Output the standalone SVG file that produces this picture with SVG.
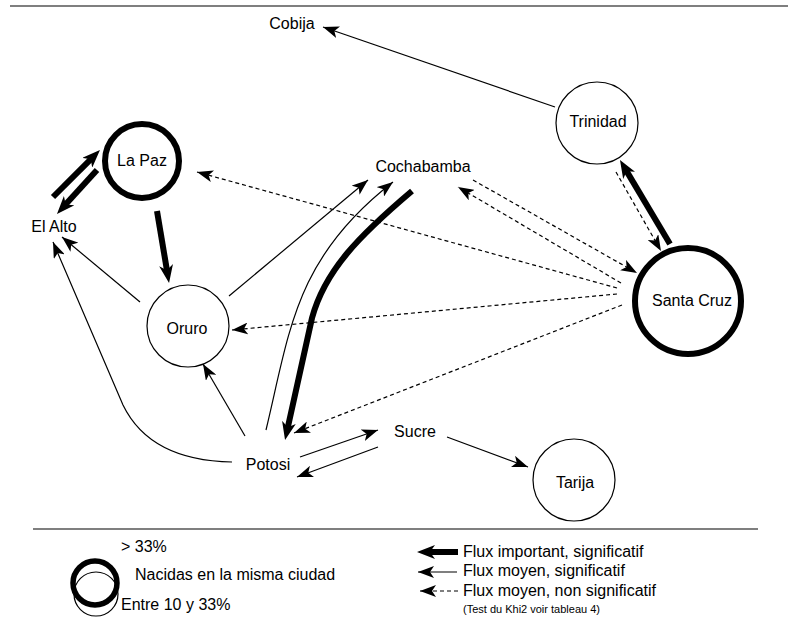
<svg xmlns="http://www.w3.org/2000/svg" width="788" height="626" viewBox="0 0 788 626">
<style>
text{font-family:"Liberation Sans",Arial,Helvetica,sans-serif;font-size:16px;fill:#000}
.c{text-anchor:middle}
.n1{fill:#fff;stroke:#000;stroke-width:1.2}
.n2{fill:#fff;stroke:#000;stroke-width:6}
.t{fill:none;stroke:#000;stroke-width:1.2;marker-end:url(#ah)}
.d{fill:none;stroke:#000;stroke-width:1.2;stroke-dasharray:4,3;marker-end:url(#ah)}
.b{fill:none;stroke:#000;stroke-width:6;marker-end:url(#ahb)}
.rule{stroke:#555;stroke-width:1.5}
</style>
<defs>
<marker id="ah" markerUnits="userSpaceOnUse" markerWidth="16" markerHeight="12" viewBox="0 0 16 12" refX="16" refY="6" orient="auto">
<path d="M0,0 L16,6 L0,12 L4,6 z" fill="#000" stroke="none"/>
</marker>
<marker id="ahb" markerUnits="userSpaceOnUse" markerWidth="18" markerHeight="14" viewBox="0 0 18 14" refX="8" refY="7" orient="auto">
<path d="M0,0 L18,7 L0,14 L5,7 z" fill="#000" stroke="none"/>
</marker>
</defs>
<line class="rule" x1="10" y1="6" x2="788" y2="6"/>
<line class="rule" x1="33" y1="529" x2="758" y2="529"/>
<g id="connectors">
<path class="t" d="M555,107 L323,27"/>
<path class="b" d="M53,197 L92.9,157.1"/>
<path class="b" d="M97,170 L63.7,206.6"/>
<path class="b" d="M157,211 L167.4,273.1"/>
<path class="t" d="M140,302 L62,237"/>
<path class="t" d="M232,462 C175,461 140,440 123,405 L53,242"/>
<path class="t" d="M245,436 L203,364"/>
<path class="t" d="M229,296 L368,180"/>
<path class="t" d="M266,430 C290,330 295,258 393,182"/>
<path class="b" d="M412,191 C360,235 325,270 312,318 L287.2,430.2"/>
<path class="d" d="M617,288 L197,172"/>
<path class="d" d="M617,294 L232,330"/>
<path class="d" d="M622,305 L294,433"/>
<path class="d" d="M473,180 L637,273"/>
<path class="d" d="M621,283 L458,187"/>
<path class="d" d="M616,172 L661,251"/>
<path class="b" d="M670,244 L625.1,168.6"/>
<path class="t" d="M300,457 L378,430"/>
<path class="t" d="M378,447 L297,477"/>
<path class="t" d="M447,437 L528,467"/>
</g>
<g id="cobija"><text class="c" x="292" y="29">Cobija</text></g>
<g id="lapaz"><circle class="n2" cx="142" cy="161" r="37"/><text class="c" x="142" y="166">La Paz</text></g>
<g id="elalto"><text class="c" x="54" y="232">El Alto</text></g>
<g id="cochabamba"><text class="c" x="423" y="172">Cochabamba</text></g>
<g id="trinidad"><circle class="n1" cx="597" cy="123" r="41"/><text class="c" x="598" y="127">Trinidad</text></g>
<g id="santacruz"><circle class="n2" cx="688" cy="301" r="53"/><text class="c" x="692" y="306">Santa Cruz</text></g>
<g id="oruro"><circle class="n1" cx="188" cy="326" r="41"/><text class="c" x="187" y="334">Oruro</text></g>
<g id="potosi"><text class="c" x="268" y="470">Potosi</text></g>
<g id="sucre"><text class="c" x="415" y="437">Sucre</text></g>
<g id="tarija"><circle class="n1" cx="574" cy="480" r="41"/><text class="c" x="575" y="488">Tarija</text></g>
<g id="legend">
<circle cx="95" cy="583" r="22" fill="none" stroke="#000" stroke-width="5.5"/>
<circle cx="96" cy="594" r="22" fill="none" stroke="#000" stroke-width="1.2"/>
<text x="121" y="552">&gt; 33%</text>
<text x="135" y="580">Nacidas en la misma ciudad</text>
<text x="121" y="610">Entre 10 y 33%</text>
<path class="b" d="M458,552 L427,552"/>
<path class="t" d="M457,572 L418,572"/>
<path class="d" d="M458,591 L420,591"/>
<text x="463" y="557">Flux important, significatif</text>
<text x="463" y="576">Flux moyen, significatif</text>
<text x="463" y="596">Flux moyen, non significatif</text>
<text x="463" y="613" style="font-size:11px">(Test du Khi2 voir tableau 4)</text>
</g>
</svg>
